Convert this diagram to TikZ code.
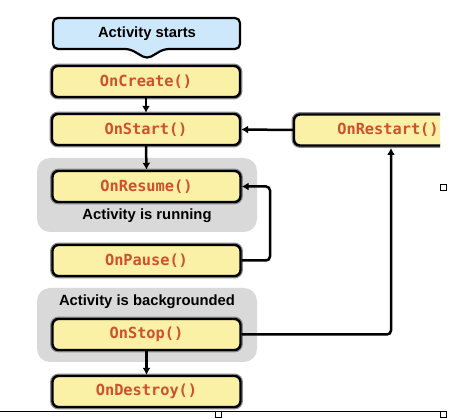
\documentclass[tikz,border=0pt]{standalone}
\usepackage{fontspec}
\setmainfont{Liberation Sans}
\newfontfamily\codefont{DejaVu Sans Mono}
\usetikzlibrary{arrows.meta}
\definecolor{boxfill}{HTML}{FAF0A6}
\definecolor{codered}{HTML}{D0502C}
\definecolor{startblue}{HTML}{CDE8FA}
\definecolor{groupgray}{HTML}{D9D9D9}
\definecolor{halo}{HTML}{8A8A8A}
\tikzset{
  stagebox/.style={rectangle, rounded corners=6pt, fill=boxfill, draw=black, line width=2.4pt,
    preaction={draw=halo, line width=4.8pt},
    minimum width=188pt, minimum height=31pt, inner sep=0pt,
    font=\codefont\bfseries\fontsize{15.3}{17}\selectfont, text=codered},
  grouplabel/.style={font=\bfseries\fontsize{14.8}{17}\selectfont, inner sep=0pt},
  flow/.style={line width=2.5pt, -{Latex[length=7pt,width=8pt]}},
  groupbg/.style={fill=groupgray, rounded corners=13pt},
  handle/.style={draw=black, fill=white, line width=0.8pt}
}
\begin{document}
\begin{tikzpicture}[x=1pt,y=-1pt]
\useasboundingbox (0,0) rectangle (475,419);
% group backgrounds
\fill[groupbg] (37,158) rectangle (257,232);
\fill[groupbg] (37,288) rectangle (257,362);
% activity starts callout
\draw[fill=startblue, line width=2.2pt, rounded corners=5pt]
  (53,18) -- (240,18) -- (240,49) -- (164,49) -- (147,59) -- (130,49) -- (53,49) -- cycle;
\node[grouplabel] (start) at (147,34) {Activity starts};
% stage boxes
\node[stagebox] (oncreate) at (146,81.5) {OnCreate()};
\node[stagebox] (onstart) at (146,129.5) {OnStart()};
\node[stagebox] (onresume) at (146.5,186.5) {OnResume()};
\node[stagebox] (onpause) at (146.5,260.5) {OnPause()};
\node[stagebox] (onstop) at (146.5,334.5) {OnStop()};
\node[stagebox] (ondestroy) at (146.5,391.5) {OnDestroy()};
\begin{scope}
\clip (0,0) rectangle (440,419);
\node[stagebox] (onrestart) at (388,130) {OnRestart()};
\end{scope}
% group labels
\node[grouplabel] (running) at (147,216) {Activity is running};
\node[grouplabel] (bg) at (147,302) {Activity is backgrounded};
% connectors
\draw[flow] (oncreate.south) -- (onstart.north);
\draw[flow] (onstart.south) -- (onresume.north);
\draw[flow] (onrestart.west) -- (onstart.east);
\draw[flow] (onstop.south) -- (ondestroy.north);
\coordinate (pauseturn) at (270,186.5);
\draw[flow, rounded corners=4pt] (onpause.east) -| (pauseturn) -- (onresume.east);
\coordinate (stopturn) at (391,148);
\draw[flow, rounded corners=4pt] (onstop.east) -| (stopturn);
% frame artefacts
\coordinate (lineL) at (0,411);
\coordinate (lineR) at (440,411);
\draw[line width=0.9pt] (lineL) -- (lineR);
\draw[handle] (215,411) rectangle (221,417);
\draw[handle] (440,411) rectangle (446,417);
\draw[handle] (440,184) rectangle (446,190);
\end{tikzpicture}
\end{document}
